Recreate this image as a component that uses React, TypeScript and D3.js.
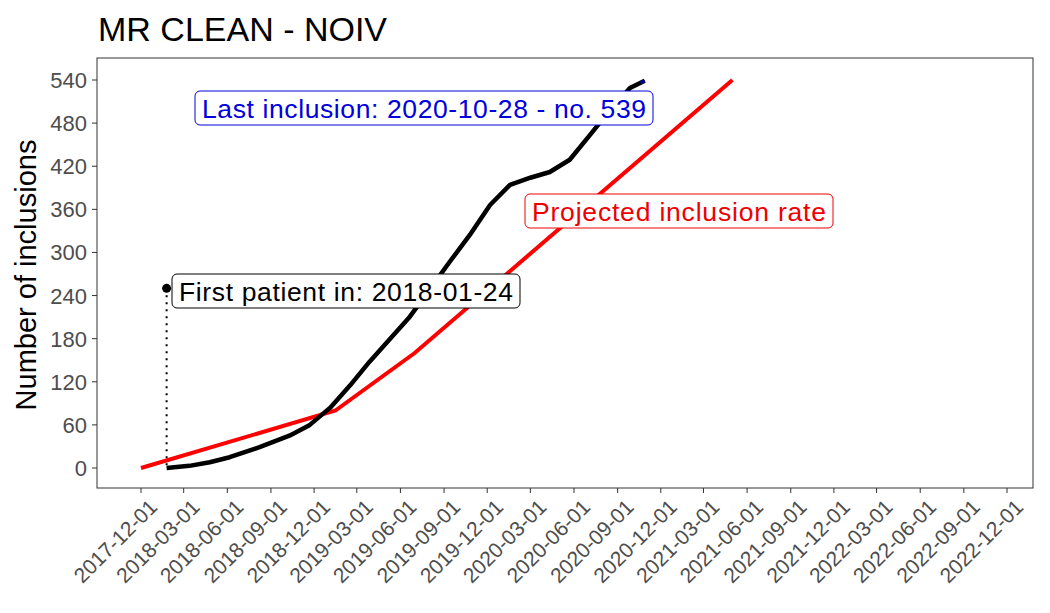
import React from "react";
import * as d3 from "d3";

const actualDates = ["2018-01-24","2018-03-13","2018-04-25","2018-06-06","2018-08-08","2018-10-10","2018-11-22","2019-01-04","2019-02-15","2019-03-28","2019-05-08","2019-06-19","2019-08-01","2019-09-13","2019-10-25","2019-12-07","2020-01-18","2020-03-01","2020-04-11","2020-05-23","2020-07-04","2020-08-16","2020-09-27","2020-10-28"];
const actualValues = [0,3,8,15,29,45,60,84,115,148,178,209,248,287,324,366,394,404,412,429,463,498,529,539];
const projDates = ["2017-12-01","2019-01-15","2019-07-01","2021-05-01"];
const projValues = [0,80,160,540];
const yTicks = [0,60,120,180,240,300,360,420,480,540];
const xTickLabels = ["2017-12-01","2018-03-01","2018-06-01","2018-09-01","2018-12-01","2019-03-01","2019-06-01","2019-09-01","2019-12-01","2020-03-01","2020-06-01","2020-09-01","2020-12-01","2021-03-01","2021-06-01","2021-09-01","2021-12-01","2022-03-01","2022-06-01","2022-09-01","2022-12-01"];
const firstPatient = { date: "2018-01-24", y: 250, label: "First patient in: 2018-01-24" };
const lastLabel = "Last inclusion: 2020-10-28 - no. 539";
const projLabel = "Projected inclusion rate";

const P = d3.timeParse("%Y-%m-%d");
const F = "Liberation Sans, Arial, sans-serif";

export default function App() {
  const W = 1050, H = 613;
  const L = 97, R = 1033, T = 58, B = 488;
  const x = d3.scaleTime().domain([P("2017-12-01")!, P("2022-12-01")!]).range([141, 1007]);
  const y = d3.scaleLinear().domain([0, 540]).range([468, 80]);
  const actual = actualDates.map((d, i) => [x(P(d)!), y(actualValues[i])] as [number, number]);
  const proj = projDates.map((d, i) => [x(P(d)!), y(projValues[i])] as [number, number]);
  const line = d3.line();
  const fx = x(P(firstPatient.date)!), fy = y(firstPatient.y);
  const last = actual[actual.length - 1], prev = actual[actual.length - 2];
  const box = (bx: number, cy: number, w: number, text: string, color: string) => (
    <g>
      <rect x={bx} y={cy - 17} width={w} height={34} rx={5} fill="white" stroke={color} strokeWidth={1} />
      <text x={bx + w / 2} y={cy + 9.5} textAnchor="middle" fontSize={26.5} fill={color} fontFamily={F} textLength={w - 14}>{text}</text>
    </g>
  );
  return (
    <svg width={W} height={H} style={{ display: "block", position: "absolute", left: 0, top: 0 }}>
      <rect width={W} height={H} fill="white" />
      <text x={98} y={41} fontSize={34} fontFamily={F} fill="black">MR CLEAN - NOIV</text>
      <rect x={L} y={T} width={R - L} height={B - T} fill="white" stroke="#333" strokeWidth={1} />
      {yTicks.map(t => (
        <g key={t}>
          <line x1={L - 5} x2={L} y1={y(t)} y2={y(t)} stroke="#333" />
          <text x={L - 10} y={y(t) + 8} textAnchor="end" fontSize={22} fill="#4d4d4d" fontFamily={F}>{t}</text>
        </g>
      ))}
      {xTickLabels.map(t => {
        const px = x(P(t)!);
        return (
          <g key={t}>
            <line x1={px} x2={px} y1={B} y2={B + 5} stroke="#333" />
            <text transform={`translate(${px + 7},${B + 10}) rotate(-45)`} textAnchor="end" fontSize={21} fill="#4d4d4d" fontFamily={F} dy="0.7em">{t}</text>
          </g>
        );
      })}
      <text transform={`translate(36,${(T + B) / 2 + 2}) rotate(-90)`} textAnchor="middle" fontSize={29} fontFamily={F}>Number of inclusions</text>
      <line x1={fx} x2={fx} y1={fy} y2={y(0)} stroke="black" strokeWidth={2} strokeDasharray="2,5" />
      <path d={line(proj)!} fill="none" stroke="#ff0000" strokeWidth={4} />
      <path d={line(actual)!} fill="none" stroke="black" strokeWidth={4.5} strokeLinejoin="round" />
      <path d={line([[prev[0] * 0.3 + last[0] * 0.7, prev[1] * 0.3 + last[1] * 0.7], last])!} fill="none" stroke="#00008b" strokeWidth={3} />
      <circle cx={fx} cy={fy} r={4.5} fill="black" />
      {box(172, 291, 348, firstPatient.label, "black")}
      {box(525, 211, 308, projLabel, "#ee0000")}
      {box(195, 108, 458, lastLabel, "#0000dd")}
    </svg>
  );
}
